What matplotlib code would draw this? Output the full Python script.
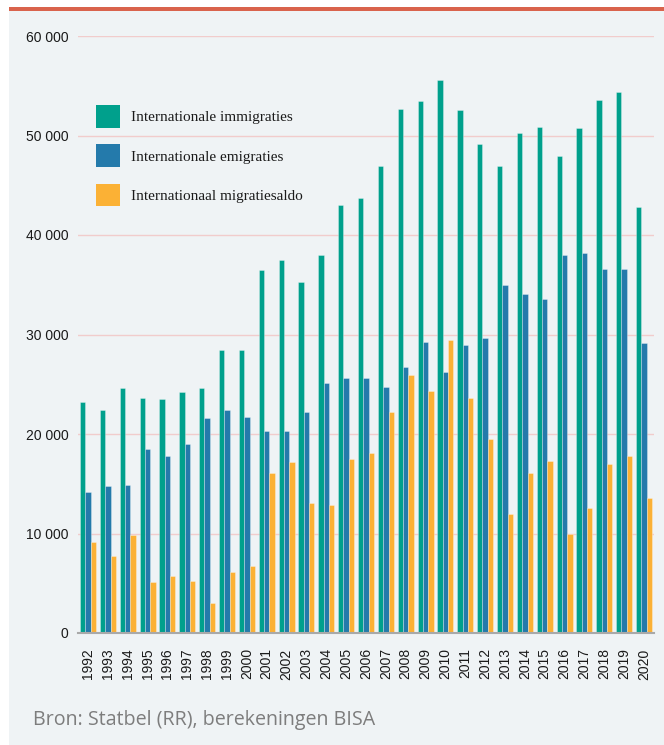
import matplotlib
matplotlib.use("Agg")
import matplotlib.pyplot as plt
import numpy as np
from matplotlib.patches import Rectangle

years = [str(y) for y in range(1992, 2021)]
immigraties = [23200, 22400, 24600, 23600, 23500, 24200, 24600, 28400, 28400,
               36500, 37500, 35300, 38000, 43000, 43700, 46900, 52700, 53500,
               55600, 52600, 49100, 46900, 50300, 50900, 47900, 50800, 53600,
               54400, 42800]
emigraties = [14200, 14800, 14900, 18500, 17800, 19000, 21600, 22400, 21700,
              20300, 20300, 22200, 25100, 25600, 25600, 24700, 26700, 29200,
              26200, 28900, 29600, 35000, 34100, 33600, 38000, 38200, 36600,
              36600, 29100]
saldo = [9100, 7700, 9800, 5100, 5700, 5200, 3000, 6100, 6700,
         16100, 17200, 13100, 12900, 17500, 18100, 22200, 25900, 24300,
         29400, 23600, 19500, 12000, 16100, 17300, 9900, 12600, 17000,
         17800, 13600]
series_names = ["Internationale immigraties", "Internationale emigraties",
                "Internationaal migratiesaldo"]
yticks = [0, 10000, 20000, 30000, 40000, 50000, 60000]
source = "Bron: Statbel (RR), berekeningen BISA"

c_teal = "#00a08c"
c_blue = "#247aab"
c_orange = "#fbb135"
bg = "#eff3f5"

W, H = 664, 745
fig = plt.figure(figsize=(W / 100, H / 100), dpi=100, facecolor="white")
# panel background
fig.patches.append(Rectangle((9 / W, 0), 1 - 9 / W, (H - 11) / H,
                             transform=fig.transFigure, facecolor=bg,
                             edgecolor="none", zorder=-10))
fig.patches.append(Rectangle((9 / W, (H - 11) / H), 1 - 9 / W, 3.5 / H,
                             transform=fig.transFigure, facecolor="#d9634c",
                             edgecolor="none", zorder=-10))

ax = fig.add_axes([78 / W, 112 / H, 576 / W, (633 - 36) / H])
ax.set_facecolor("none")
ax.set_zorder(5)

x = np.arange(len(years))
w = 0.27
for off, vals, col in [(-w, immigraties, c_teal), (0, emigraties, c_blue),
                       (w, saldo, c_orange)]:
    ax.bar(x + off, vals, width=w, color=col, edgecolor=(1, 1, 1, 0.35),
           linewidth=0.6, zorder=3)

ax.set_xlim(-0.505, len(years) - 1 + 0.505)
ax.set_ylim(0, 60000)
ax.set_yticks(yticks)
ax.set_yticklabels([f"{v:,}".replace(",", " ") for v in yticks],
                   fontsize=10, family="Liberation Sans", color="#1a1a1a")
ax.set_xticks(x)
ax.set_xticklabels(years, rotation=90, fontsize=10, family="Liberation Sans",
                   color="#1a1a1a")
ax.tick_params(axis="y", length=0, pad=7)
ax.tick_params(axis="x", length=0, pad=11)
for v in yticks[1:]:
    ax.axhline(v, color="#f1cccc", linewidth=1.0, zorder=1)
for s in ["top", "right", "left"]:
    ax.spines[s].set_visible(False)
ax.spines["bottom"].set_color("#a9a9a9")
ax.spines["bottom"].set_linewidth(1.5)
ax.spines["bottom"].set_zorder(4)

handles = [Rectangle((0, 0), 1, 1, facecolor=c) for c in (c_teal, c_blue, c_orange)]
leg = ax.legend(handles, series_names, loc="upper left",
                bbox_to_anchor=(18 / 576, (633 - 105) / 597), frameon=False,
                borderpad=0, borderaxespad=0,
                handlelength=1.57, handleheight=1.9, handletextpad=0.72,
                labelspacing=1.1,
                prop={"family": "Liberation Serif", "size": 11})
for t in leg.get_texts():
    t.set_color("#1a1a1a")

fig.text(33 / W, 1 - 720 / H, source, fontsize=14.1, family="Open Sans",
         color="#7d7d7d", va="center", ha="left")

fig.savefig("out.png", dpi=100, facecolor=fig.get_facecolor())
